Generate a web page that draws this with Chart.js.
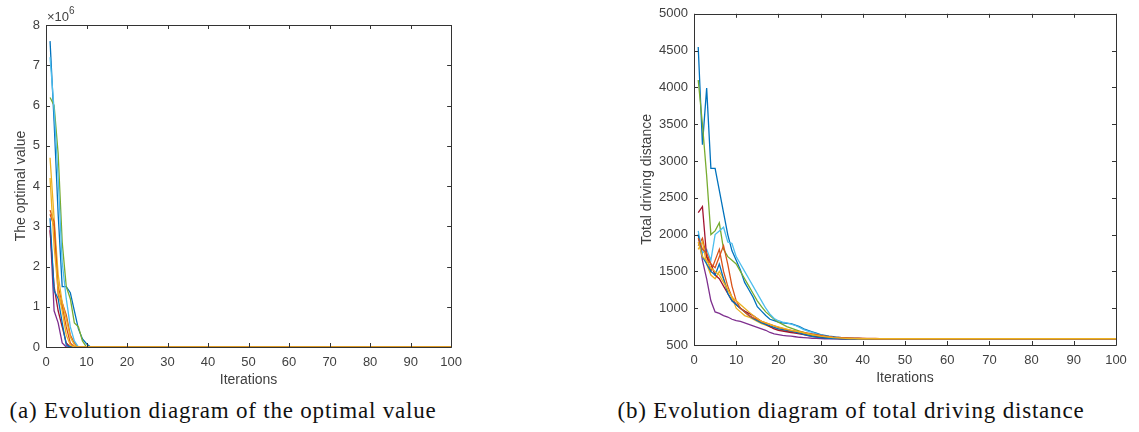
<!DOCTYPE html>
<html>
<head>
<meta charset="utf-8">
<script src="https://cdn.jsdelivr.net/npm/chart.js@4.4.1/dist/chart.umd.min.js"></script>
<style>
  body { margin:0; background:#fff; width:1139px; height:432px; overflow:hidden; position:relative; }
  canvas { position:absolute; }
  #cv-opt { left:0; top:0; }
  #cv-dist { left:630px; top:0; }
  .cap { position:absolute; top:398px; font-family:"Liberation Serif", serif; font-size:23px; letter-spacing:0.8px; color:#111; white-space:nowrap; transform:translateX(-50%); }
</style>
</head>
<body>
<canvas id="cv-opt" width="470" height="389"></canvas>
<canvas id="cv-dist" width="509" height="387"></canvas>
<div class="cap" id="cap-a" style="left:223px">(a) Evolution diagram of the optimal value</div>
<div class="cap" id="cap-b" style="left:851px">(b) Evolution diagram of total driving distance</div>
<script>
// ===== DATA =====
// each run: values for iterations 1..n, the last value is held until iteration 100
const ITER_MAX = 100;
const xTicks = [0, 10, 20, 30, 40, 50, 60, 70, 80, 90, 100];

// (a) optimal value, in units of 1e6
const optTicks = [0, 1, 2, 3, 4, 5, 6, 7, 8];
const opt1  = [7.6, 5.6, 3.3, 1.5, 1.5, 1.35, 0.9, 0.45, 0.2, 0.08, 0];
const opt2  = [3.3, 3.0, 1.5, 1.1, 0.8, 0.3, 0.1, 0];
const opt3  = [4.7, 3.2, 1.8, 1.1, 0.7, 0.25, 0.05, 0];
const opt4  = [3.0, 0.9, 0.6, 0.1, 0];
const opt5  = [6.2, 6.0, 4.8, 2.6, 1.5, 1.2, 0.6, 0.5, 0.15, 0];
const opt6  = [7.2, 5.9, 4.2, 2.1, 1.2, 0.5, 0.15, 0];
const opt7  = [2.9, 1.5, 0.9, 0.5, 0.1, 0];
const opt8  = [3.2, 1.4, 1.2, 0.6, 0.05, 0];
const opt9  = [3.4, 3.1, 1.3, 1.0, 0.5, 0.1, 0];
const opt10 = [4.2, 2.5, 1.4, 0.9, 0.3, 0.05, 0];

// (b) total driving distance
const distTicks = [500, 1000, 1500, 2000, 2500, 3000, 3500, 4000, 4500, 5000];
const dist1  = [4550, 3220, 3990, 2900, 2900, 2600, 2300, 2000, 1780, 1650, 1520, 1350, 1250, 1150, 1020, 960, 900, 850, 830, 810, 800, 795, 790, 770, 750, 720, 700, 680, 660, 640, 630, 620, 612, 605, 600, 596, 593, 590, 588, 586, 585];
const dist2  = [1850, 1950, 1700, 1500, 1650, 1800, 1500, 1300, 1150, 1050, 1000, 950, 900, 870, 840, 810, 780, 750, 730, 710, 700, 690, 680, 670, 660, 650, 640, 630, 622, 615, 610, 606, 602, 600, 598, 596, 594, 593, 592, 591, 590, 589, 588, 587, 586, 585];
const dist3  = [1800, 1900, 1600, 1450, 1400, 1500, 1400, 1250, 1150, 1000, 950, 900, 880, 850, 820, 790, 770, 750, 730, 720, 710, 700, 690, 680, 670, 655, 640, 630, 620, 612, 605, 600, 596, 592, 589, 587, 585];
const dist4  = [2000, 1650, 1400, 1100, 950, 930, 900, 880, 850, 830, 820, 800, 780, 760, 740, 720, 700, 670, 650, 640, 630, 625, 620, 612, 605, 600, 596, 592, 589, 587, 585];
const dist5  = [4100, 3500, 2800, 2000, 2050, 2160, 1800, 1700, 1650, 1600, 1500, 1400, 1300, 1200, 1100, 1020, 950, 900, 850, 810, 780, 750, 730, 710, 690, 670, 650, 635, 622, 612, 604, 598, 593, 589, 587, 585];
const dist6  = [2050, 1750, 1800, 1650, 2000, 2050, 2100, 1900, 1880, 1700, 1600, 1500, 1400, 1300, 1200, 1100, 1000, 920, 860, 830, 810, 800, 785, 765, 740, 710, 690, 670, 650, 635, 622, 612, 604, 598, 593, 589, 586, 585];
const dist7  = [2300, 2380, 1700, 1600, 1450, 1400, 1300, 1200, 1100, 1050, 1000, 960, 930, 900, 860, 820, 780, 750, 720, 700, 690, 680, 670, 660, 650, 640, 628, 618, 610, 603, 598, 594, 590, 587, 585];
const dist8  = [2000, 1700, 1600, 1500, 1450, 1600, 1400, 1200, 1100, 1050, 1000, 950, 900, 860, 830, 800, 780, 760, 740, 720, 710, 700, 690, 675, 660, 645, 630, 618, 608, 600, 595, 591, 588, 586, 585];
const dist9  = [1950, 1800, 1750, 1600, 1550, 1700, 1850, 1600, 1300, 1100, 1000, 950, 900, 870, 850, 820, 800, 780, 760, 740, 725, 710, 700, 690, 680, 670, 660, 650, 640, 630, 622, 615, 608, 603, 599, 596, 593, 591, 589, 588, 587, 586, 585];
const dist10 = [1900, 1700, 1650, 1550, 1500, 1450, 1350, 1250, 1150, 1100, 1050, 1000, 950, 900, 860, 820, 800, 780, 760, 745, 730, 715, 700, 690, 680, 668, 655, 642, 632, 622, 614, 607, 601, 597, 593, 590, 588, 586, 585];

// matlab default line colours
const COLORS = ['#0072BD','#D95319','#EDB120','#7E2F8E','#77AC30','#4DBEEE','#A2142F'];
const TXT = '#404040';
const AXC = '#333333';

function toPoints(vals) {
  const pts = vals.map((v, i) => ({x: i + 1, y: v}));
  pts.push({x: ITER_MAX, y: vals[vals.length - 1]});
  return pts;
}

function makeSets(runs) {
  // matlab draws later runs on top -> smaller order = drawn last
  return runs.map((r, i) => ({
    data: toPoints(r), borderColor: COLORS[i % COLORS.length], borderWidth: 1.3,
    pointRadius: 0, tension: 0, fill: false, order: runs.length - i, clip: 3
  }));
}

// box + inward ticks like matlab, plus the exponent label
const matlabBox = {
  id: 'matlabBox',
  afterDatasetsDraw(chart, args, opts) {
    const {ctx, chartArea: a, scales: {x, y}} = chart;
    ctx.save();
    ctx.strokeStyle = AXC;
    ctx.lineWidth = 1;
    ctx.beginPath();
    ctx.rect(Math.round(a.left) + 0.5, Math.round(a.top) + 0.5, Math.round(a.width), Math.round(a.height));
    x.ticks.forEach(t => {
      const px = Math.round(x.getPixelForValue(t.value)) + 0.5;
      ctx.moveTo(px, a.bottom); ctx.lineTo(px, a.bottom - 4);
      ctx.moveTo(px, a.top); ctx.lineTo(px, a.top + 4);
    });
    y.ticks.forEach(t => {
      const py = Math.round(y.getPixelForValue(t.value)) + 0.5;
      ctx.moveTo(a.left, py); ctx.lineTo(a.left + 4, py);
      ctx.moveTo(a.right, py); ctx.lineTo(a.right - 4, py);
    });
    ctx.stroke();
    if (opts.exponent) {
      ctx.fillStyle = TXT;
      ctx.textBaseline = 'alphabetic';
      ctx.font = '13px "Liberation Sans", Arial, sans-serif';
      ctx.fillText('\u00d710', a.left + 1, a.top - 4);
      const w = ctx.measureText('\u00d710').width;
      ctx.font = '10px "Liberation Sans", Arial, sans-serif';
      ctx.fillText(opts.exponent, a.left + 1 + w, a.top - 11);
    }
    ctx.restore();
  }
};

function axisOpts(min, max, ticksArr, yWidth, title, titlePad) {
  const font = {family: '"Liberation Sans", Arial, sans-serif', size: 13};
  return {
    x: {
      type: 'linear', min: 0, max: ITER_MAX,
      afterBuildTicks: s => { s.ticks = xTicks.map(v => ({value: v})); },
      afterFit: s => { s.height = 42; },
      grid: {display: false, drawTicks: false}, border: {display: false},
      ticks: {color: TXT, font, padding: 8, maxRotation: 0, autoSkip: false, callback: v => String(v)},
      title: {display: true, text: 'Iterations', color: TXT, font: {family: font.family, size: 14}, padding: {top: 0, bottom: 0}}
    },
    y: {
      type: 'linear', min, max,
      afterBuildTicks: s => { s.ticks = ticksArr.map(v => ({value: v})); },
      afterFit: s => { s.width = yWidth; },
      grid: {display: false, drawTicks: false}, border: {display: false},
      ticks: {color: TXT, font, padding: 6, autoSkip: false, callback: v => String(v)},
      title: {display: true, text: title, color: TXT, font: {family: font.family, size: 14}, padding: {top: titlePad, bottom: 0}}
    }
  };
}

function baseOptions(scales, pad, exponent) {
  return {
    responsive: false, animation: false, devicePixelRatio: 1,
    layout: {padding: pad},
    plugins: {legend: {display: false}, tooltip: {enabled: false}, matlabBox: {exponent}},
    scales
  };
}

new Chart(document.getElementById('cv-opt'), {
  type: 'line',
  data: {datasets: makeSets([opt1, opt2, opt3, opt4, opt5, opt6, opt7, opt8, opt9, opt10])},
  options: baseOptions(axisOpts(0, 8, optTicks, 46, 'The optimal value', 13),
    {top: 25, right: 14, bottom: 0, left: 0}, '6'),
  plugins: [matlabBox]
});

new Chart(document.getElementById('cv-dist'), {
  type: 'line',
  data: {datasets: makeSets([dist1, dist2, dist3, dist4, dist5, dist6, dist7, dist8, dist9, dist10])},
  options: baseOptions(axisOpts(500, 5000, distTicks, 64, 'Total driving distance', 9),
    {top: 13, right: 23, bottom: 0, left: 0}, null),
  plugins: [matlabBox]
});
</script>
</body>
</html>
